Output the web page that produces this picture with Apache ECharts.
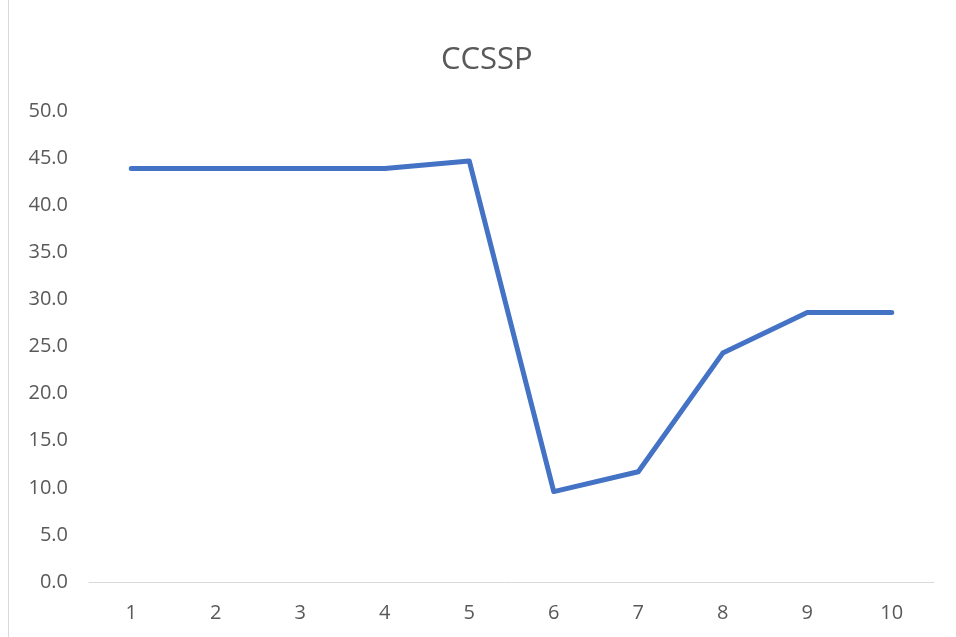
<!DOCTYPE html>
<html>
<head>
<meta charset="utf-8">
<script src="https://cdn.jsdelivr.net/npm/echarts@6/dist/echarts.min.js"></script>
<style>
  html, body { margin: 0; padding: 0; background: #fff; }
  #chart { width: 956px; height: 637px; }
</style>
</head>
<body>
<div id="chart"></div>
<script>
const categories = ['1', '2', '3', '4', '5', '6', '7', '8', '9', '10']
const ccssp = [43.9, 43.9, 43.9, 43.9, 44.7, 9.6, 11.7, 24.3, 28.6, 28.6]

const chart = echarts.init(document.getElementById('chart'))

const option = {
  backgroundColor: '#fff',
  textStyle: { fontFamily: 'Open Sans, Noto Sans, sans-serif' },
  title: {
    text: 'CCSSP',
    left: 436,
    top: 40,
    textStyle: { fontSize: 31, fontWeight: 'normal', color: '#595959', fontFamily: 'Open Sans, Noto Sans, sans-serif' }
  },
  // chart area frame (left edge visible in the reference)
  graphic: [
    {
      type: 'line',
      shape: { x1: 8.5, y1: 0, x2: 8.5, y2: 637 },
      style: { stroke: '#d9d9d9', lineWidth: 1 }
    }
  ],
  grid: {
    left: 89,
    right: 22,
    top: 111,
    bottom: 55
  },
  xAxis: {
    type: 'category',
    data: categories,
    boundaryGap: true,
    axisLine: { lineStyle: { color: '#d9d9d9', width: 1 } },
    axisTick: { show: false },
    axisLabel: { color: '#595959', fontSize: 20, margin: 21 }
  },
  yAxis: {
    type: 'value',
    min: 0,
    max: 50,
    interval: 5,
    splitLine: { show: false },
    axisLine: { show: false },
    axisTick: { show: false },
    axisLabel: {
      color: '#595959',
      fontSize: 20,
      margin: 21,
      formatter: v => v.toFixed(1)
    }
  },
  series: [
    {
      name: 'CCSSP',
      type: 'line',
      data: ccssp,
      showSymbol: false,
      lineStyle: { color: '#4472C4', width: 5, cap: 'round', join: 'round' },
      itemStyle: { color: '#4472C4' }
    }
  ]
}

chart.setOption(option)
</script>
</body>
</html>
